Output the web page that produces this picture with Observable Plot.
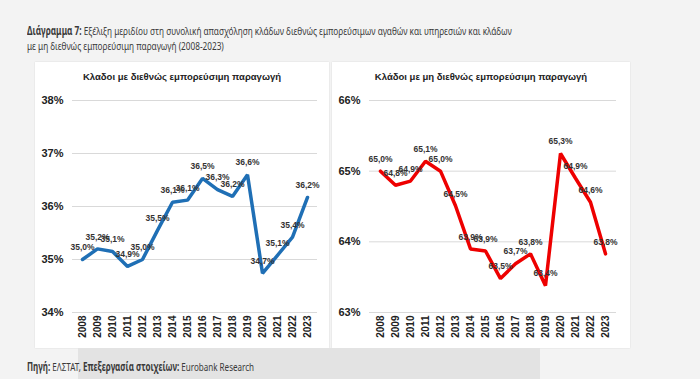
<!DOCTYPE html>
<html><head><meta charset="utf-8">
<script src="https://cdn.jsdelivr.net/npm/d3@7"></script>
<script src="https://cdn.jsdelivr.net/npm/@observablehq/plot@0.6"></script>
<style>
body{margin:0;background:#f3f3f3;width:700px;height:379px;position:relative;overflow:hidden;font-family:"Noto Sans",sans-serif}
#heading{position:absolute;left:27px;top:23px;font-size:11.5px;line-height:15px;color:#3a3a3a;width:684px;transform:scaleX(0.715);transform-origin:0 0}
#heading b,#caption b{font-weight:700}
.panel{position:absolute;top:62px;height:286px;background:#fff;box-shadow:0 0 1.5px rgba(0,0,0,0.12)}
.ptitle{position:absolute;top:9px;left:0;width:100%;text-align:center;font:bold 9.5px "Liberation Sans",sans-serif;color:#222}
.chart{position:absolute;left:0;top:30px}
#p1{left:35px;width:294px}
#p2{left:332px;width:298px}
#band{position:absolute;left:78px;top:348px;width:462px;height:31px;background:#e3e3e3}
#caption{position:absolute;left:27px;top:359px;font-size:11.5px;color:#3a3a3a;white-space:nowrap;transform:scaleX(0.7);transform-origin:0 0}
</style></head>
<body>
<div id="heading"><b>Διάγραμμα 7:</b> Εξέλιξη μεριδίου στη συνολική απασχόληση κλάδων διεθνώς εμπορεύσιμων αγαθών και υπηρεσιών και κλάδων με μη διεθνώς εμπορεύσιμη παραγωγή (2008-2023)</div>
<div class="panel" id="p1"><div class="ptitle">Κλαδοι με διεθνώς εμπορεύσιμη παραγωγή</div><div class="chart" id="c1"></div></div>
<div class="panel" id="p2"><div class="ptitle">Κλάδοι με μη διεθνώς εμπορεύσιμη παραγωγή</div><div class="chart" id="c2"></div></div>
<div id="band"></div>
<div id="caption"><b>Πηγή:</b> ΕΛΣΤΑΤ, <b>Επεξεργασία στοιχείων:</b> Eurobank Research</div>
<script>
const years = ["2008","2009","2010","2011","2012","2013","2014","2015","2016","2017","2018","2019","2020","2021","2022","2023"];
const tradable = [35.0, 35.2, 35.15, 34.87, 35.0, 35.55, 36.08, 36.12, 36.53, 36.32, 36.19, 36.6, 34.74, 35.08, 35.42, 36.17];
const tradableLabels = ["35,0%","35,2%","35,1%","34,9%","35,0%","35,5%","36,1%","36,1%","36,5%","36,3%","36,2%","36,6%","34,7%","35,1%","35,4%","36,2%"];
const nonTradable = [65.0, 64.8, 64.86, 65.14, 65.0, 64.51, 63.9, 63.87, 63.48, 63.69, 63.83, 63.38, 65.25, 64.9, 64.56, 63.83];
const nonTradableLabels = ["65,0%","64,8%","64,9%","65,1%","65,0%","64,5%","63,9%","63,9%","63,5%","63,7%","63,8%","63,4%","65,3%","64,9%","64,6%","63,8%"];
const ticks1 = [34, 35, 36, 37, 38];
const ticks2 = [63, 64, 65, 66];

function chart(values, labels, ticks, color, width, marginRight, padding) {
  const data = years.map((y, i) => ({year: y, value: values[i], label: labels[i]}));
  return Plot.plot({
    width, height: 256, marginTop: 8, marginBottom: 36, marginLeft: 37, marginRight,
    style: {background: "transparent", fontFamily: "Liberation Sans, sans-serif", overflow: "visible", color: "#222"},
    x: {type: "point", domain: years, padding, label: null, axis: null},
    y: {domain: [ticks[0], ticks[ticks.length - 1]], label: null, axis: null},
    marks: [
      Plot.gridY(ticks, {stroke: "#d9d9d9", strokeOpacity: 1, strokeWidth: 1}),
      Plot.axisY(ticks, {tickSize: 0, tickPadding: 9, tickFormat: d => d + "%", fontSize: 11, fontWeight: "bold", label: null}),
      Plot.axisX(years, {tickSize: 0, tickRotate: -90, tickPadding: 3, fontSize: 10, fontWeight: "bold", label: null}),
      Plot.line(data, {x: "year", y: "value", stroke: color, strokeWidth: 3.5, strokeLinejoin: "miter"}),
      Plot.text(data, {x: "year", y: "value", text: "label", dy: -12, fontSize: 8.5, fontWeight: "bold", fill: "#333"})
    ]
  });
}
document.getElementById("c1").append(chart(tradable, tradableLabels, ticks1, "#1f6fb5", 294, 12, 0.5));
document.getElementById("c2").append(chart(nonTradable, nonTradableLabels, ticks2, "#ee0000", 298, 14, 0.55));
</script>
</body></html>
